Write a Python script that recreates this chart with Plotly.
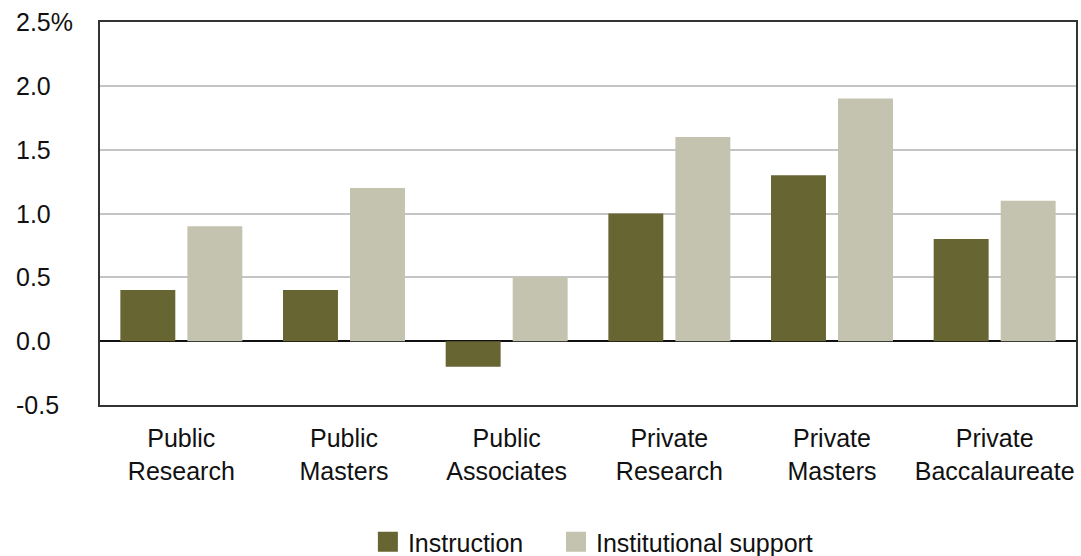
import plotly.graph_objects as go

categories = ["Public<br>Research", "Public<br>Masters", "Public<br>Associates",
              "Private<br>Research", "Private<br>Masters", "Private<br>Baccalaureate"]
instruction = [0.4, 0.4, -0.2, 1.0, 1.3, 0.8]
institutional_support = [0.9, 1.2, 0.5, 1.6, 1.9, 1.1]
tick_vals = [-0.5, 0.0, 0.5, 1.0, 1.5, 2.0, 2.5]
tick_text = ["-0.5", "0.0", "0.5", "1.0", "1.5", "2.0", "2.5%"]
series_names = ["Instruction", "Institutional support"]
series_colors = ["#676633", "#C4C3AF"]

FONT = "Liberation Sans, Arial, Helvetica, sans-serif"
FS = 25

fig = go.Figure()
for name, vals, col in zip(series_names, [instruction, institutional_support], series_colors):
    fig.add_trace(go.Bar(x=categories, y=vals, name=name, showlegend=False,
                         marker=dict(color=col, line=dict(width=0))))
legend_labels = [series_names[0] + "\u00a0" * 4, series_names[1]]
for name, col in zip(legend_labels, series_colors):
    fig.add_trace(go.Scatter(x=[None], y=[None], mode="markers", name=name,
                             marker=dict(symbol="square", size=16, color=col,
                                         line=dict(color=col, width=4))))

for v, t in zip(tick_vals, tick_text):
    fig.add_annotation(x=-0.088, xref="paper", y=v, yref="y", text=t,
                       showarrow=False, xanchor="left", yanchor="middle",
                       font=dict(family=FONT, size=FS, color="#111"))

fig.update_layout(
    width=1081, height=556,
    margin=dict(l=100, r=5, t=22, b=151, autoexpand=False),
    paper_bgcolor="white", plot_bgcolor="white",
    barmode="group", bargap=0.176, bargroupgap=0.18,
    font=dict(family=FONT, size=FS, color="#111"),
    showlegend=True,
    legend=dict(orientation="h", x=0.505, xanchor="center", xref="paper",
                y=-0.358, yanchor="middle", font=dict(family=FONT, size=FS, color="#111"),
                itemsizing="trace", itemwidth=30, tracegroupgap=0),
    xaxis=dict(showgrid=False, showline=True, linecolor="#333", linewidth=2, mirror=True,
               ticks="", tickfont=dict(family=FONT, size=FS, color="#111"), ticklabelstandoff=10),
    yaxis=dict(range=[-0.5, 2.5], tickvals=tick_vals, showticklabels=False,
               showgrid=True, gridcolor="#C4C4C4", gridwidth=2,
               zeroline=True, zerolinecolor="#111", zerolinewidth=2,
               showline=True, linecolor="#333", linewidth=2, mirror=True, ticks=""),
)

fig.write_html("out.html")
